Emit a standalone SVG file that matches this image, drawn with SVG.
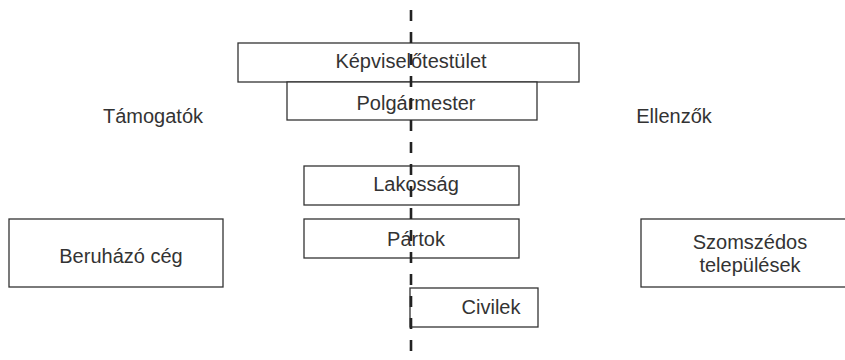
<svg xmlns="http://www.w3.org/2000/svg" width="845" height="360" viewBox="0 0 845 360">
<style>
.box{fill:#fff;stroke:#333;stroke-width:1.3}
.t{font-family:"Liberation Sans",Arial,sans-serif;font-size:20px;fill:#333;text-anchor:middle}
.div{stroke:#222;stroke-width:2.6;stroke-dasharray:11 11;fill:none}
</style>
<rect width="845" height="360" fill="#fff"/>
<g id="kepviselotestulet"><rect class="box" x="238" y="43" width="341" height="39"/><text class="t" x="411" y="68">Képviselőtestület</text></g>
<g id="polgarmester"><rect class="box" x="287" y="82" width="250" height="38"/><text class="t" x="416" y="110">Polgármester</text></g>
<g id="lakossag"><rect class="box" x="304" y="166" width="215" height="39"/><text class="t" x="416" y="191">Lakosság</text></g>
<g id="partok"><rect class="box" x="304" y="219" width="215" height="39"/><text class="t" x="416" y="246">Pártok</text></g>
<g id="civilek"><rect class="box" x="410" y="288" width="128" height="39"/><text class="t" x="491" y="314">Civilek</text></g>
<g id="beruhazo"><rect class="box" x="9" y="219" width="214" height="68"/><text class="t" x="121" y="263">Beruházó cég</text></g>
<g id="szomszedos"><rect class="box" x="641" y="219" width="220" height="68"/><text class="t" x="750" y="249">Szomszédos</text><text class="t" x="750" y="272">települések</text></g>
<g id="tamogatok"><text class="t" x="153" y="123">Támogatók</text></g>
<g id="ellenzok"><text class="t" x="674" y="123">Ellenzők</text></g>
<g id="connectors"><line class="div" x1="411" y1="10" x2="411" y2="360"/></g>
</svg>
